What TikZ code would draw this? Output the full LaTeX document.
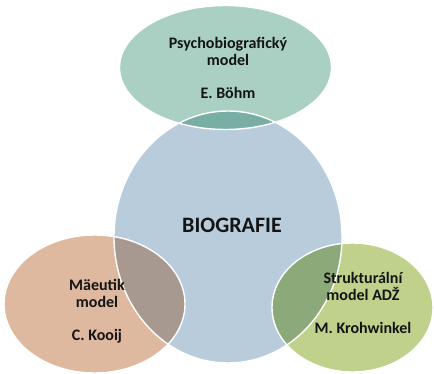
\documentclass[tikz,border=0pt]{standalone}
\usepackage{fontspec}
\setmainfont{Carlito}
\usetikzlibrary{positioning}

\definecolor{biofill}{HTML}{B8CCDB}
\definecolor{psychfill}{HTML}{A9D0C2}
\definecolor{psychlens}{HTML}{79AEA5}
\definecolor{maeutfill}{HTML}{DEB9A0}
\definecolor{maeutlens}{HTML}{A7998F}
\definecolor{strukfill}{HTML}{C0D18C}
\definecolor{struklens}{HTML}{8BA979}

\begin{document}
\begin{tikzpicture}[x=1pt,y=-1pt,
    rim/.style={draw=white, line width=1.4pt},
    modeltext/.style={font=\bfseries\fontsize{16}{17}\selectfont, align=center, text=black!92},
    titletext/.style={font=\bfseries\fontsize{22}{24}\selectfont, text=black!92}]
  \useasboundingbox (0,0) rectangle (434,374);
  % the four bubbles
  \fill[biofill] (228,237) ellipse [x radius=114pt, y radius=126pt];
  \fill[psychfill] (225.5,67.5) ellipse [x radius=106pt, y radius=62pt];
  \fill[maeutfill] (94.5,304) ellipse [x radius=90.5pt, y radius=69pt];
  \fill[strukfill] (352.5,307.5) ellipse [x radius=80.5pt, y radius=64.5pt];
  % overlaps with the big circle
  \begin{scope}
    \clip (228,237) ellipse [x radius=114pt, y radius=126pt];
    \fill[psychlens] (225.5,67.5) ellipse [x radius=106pt, y radius=62pt];
    \fill[maeutlens] (94.5,304) ellipse [x radius=90.5pt, y radius=69pt];
    \fill[struklens] (352.5,307.5) ellipse [x radius=80.5pt, y radius=64.5pt];
  \end{scope}
  % white rims
  \draw[rim] (228,237) ellipse [x radius=114pt, y radius=126pt];
  \draw[rim] (225.5,67.5) ellipse [x radius=106pt, y radius=62pt];
  \draw[rim] (94.5,304) ellipse [x radius=90.5pt, y radius=69pt];
  \draw[rim] (352.5,307.5) ellipse [x radius=80.5pt, y radius=64.5pt];
  % labels
  \node[titletext] (bio) at (232,225) {BIOGRAFIE};
  \node[modeltext] (psych) at (228,68) {Psychobiografický\\model\\[16pt]E. Böhm};
  \node[modeltext] (maeut) at (97,311.5) {Mäeutik\\model\\[16pt]C. Kooij};
  \node[modeltext] (struk) at (363,303) {Strukturální\\model ADŽ\\[16pt]M. Krohwinkel};
\end{tikzpicture}
\end{document}
